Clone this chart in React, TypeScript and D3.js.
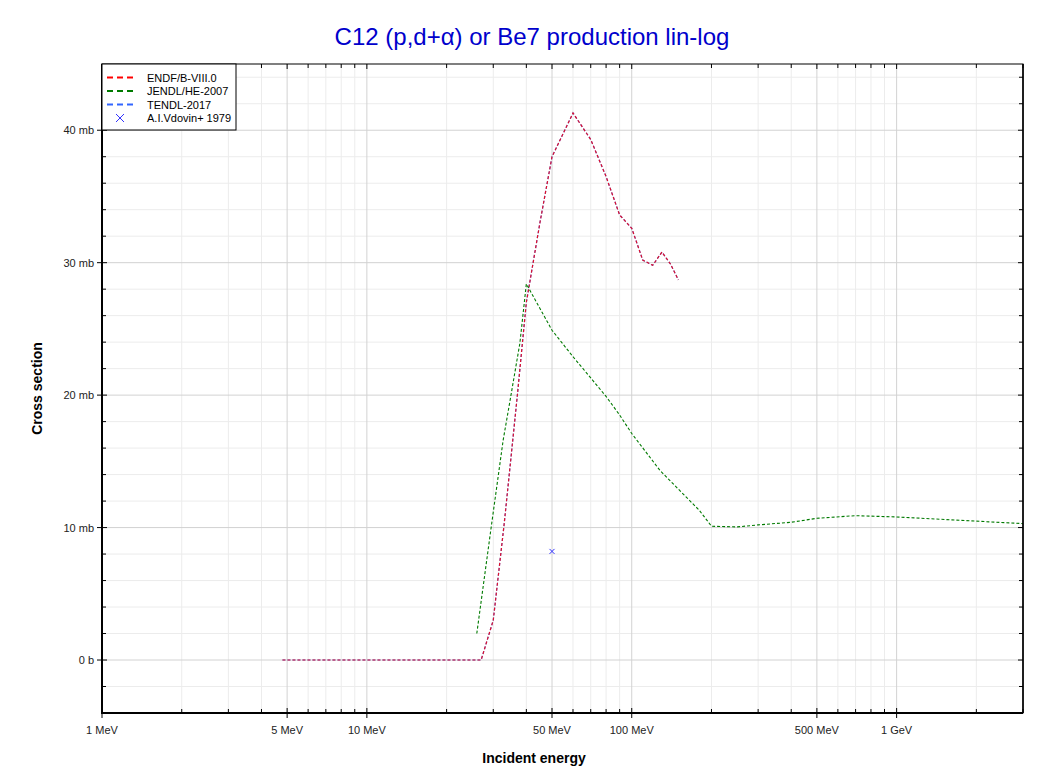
import React from "react";
import * as d3 from "d3";

// ---- data ----
const endfE = [4.8, 10, 20, 27, 30, 33, 37, 40, 45, 50, 60, 70, 80, 90, 100, 110, 120, 130, 140, 150];
const endfV = [0, 0, 0, 0, 3.0, 10.3, 20, 27, 33, 38, 41.3, 39.3, 36.5, 33.6, 32.6, 30.2, 29.8, 30.8, 29.9, 28.7];

const tendlE = [4.8, 10, 20, 27, 30, 33, 37, 40, 45, 50, 60, 70, 80, 90, 100, 110, 120, 130, 140, 150];
const tendlV = [0, 0, 0, 0, 3.0, 10.3, 20, 27, 33, 38, 41.3, 39.3, 36.5, 33.6, 32.6, 30.2, 29.8, 30.8, 29.9, 28.7];

const jendlE = [26, 29.5, 32.7, 35, 37.8, 40, 50, 60, 70, 80, 90, 100, 128, 150, 180, 200, 250, 300, 400, 500, 700, 1000, 3000];
const jendlV = [2.0, 10.1, 16.6, 20, 23.9, 28.4, 24.9, 22.9, 21.3, 19.9, 18.5, 17.1, 14.3, 12.9, 11.3, 10.1, 10.05, 10.2, 10.4, 10.7, 10.9, 10.8, 10.3];

const vdovinE = [50];
const vdovinV = [8.2];

const xMajorTicks = [1, 5, 10, 50, 100, 500, 1000];
const xMajorLabels = ["1 MeV", "5 MeV", "10 MeV", "50 MeV", "100 MeV", "500 MeV", "1 GeV"];
const xMinorTicks = [2, 3, 4, 6, 7, 8, 9, 20, 30, 40, 60, 70, 80, 90, 200, 300, 400, 600, 700, 800, 900, 2000, 3000];

const yMajorTicks = [0, 10, 20, 30, 40];
const yMajorLabels = ["0 b", "10 mb", "20 mb", "30 mb", "40 mb"];
const yMinorTicks = [-4, -2, 2, 4, 6, 8, 12, 14, 16, 18, 22, 24, 26, 28, 32, 34, 36, 38, 42, 44];

const legendNames = ["ENDF/B-VIII.0", "JENDL/HE-2007", "TENDL-2017", "A.I.Vdovin+ 1979"];
const legendColors = ["#ff0000", "#007a00", "#3366ff", "#3333ff"];

const W = 1049;
const H = 772;
const L = 102, R = 1023, T = 64, B = 713;
const FONT = "'Liberation Sans', Arial, Helvetica, sans-serif";

export default function App() {
  const x = d3.scaleLog().domain([1, 3000]).range([L, R]);
  const y = d3.scaleLinear().domain([-4, 45]).range([B, T]);

  const line = d3
    .line<[number, number]>()
    .x((d) => x(d[0]))
    .y((d) => y(d[1]));

  const zip = (a: number[], b: number[]) => a.map((v, i) => [v, b[i]] as [number, number]);

  const endf = line(zip(endfE, endfV)) || "";
  const tendl = line(zip(tendlE, tendlV)) || "";
  const jendl = line(zip(jendlE, jendlV)) || "";

  return (
    <svg
      width={W}
      height={H}
      style={{ position: "absolute", left: 0, top: 0, background: "#fff" }}
      fontFamily={FONT}
    >
      <rect x={0} y={0} width={W} height={H} fill="#fff" />
      {/* title */}
      <text x={532} y={45} textAnchor="middle" fontSize={24} fill="#0000cc">
        C12 (p,d+α) or Be7 production lin-log
      </text>

      {/* grid */}
      <g>
        {xMinorTicks.map((t) => (
          <line key={"gxm" + t} x1={x(t)} x2={x(t)} y1={T} y2={B} stroke="#ececec" strokeWidth={1} />
        ))}
        {yMinorTicks.map((t) => (
          <line key={"gym" + t} x1={L} x2={R} y1={y(t)} y2={y(t)} stroke="#ececec" strokeWidth={1} />
        ))}
        {xMajorTicks.map((t) => (
          <line key={"gx" + t} x1={x(t)} x2={x(t)} y1={T} y2={B} stroke="#d2d2d2" strokeWidth={1} />
        ))}
        {yMajorTicks.map((t) => (
          <line key={"gy" + t} x1={L} x2={R} y1={y(t)} y2={y(t)} stroke="#d2d2d2" strokeWidth={1} />
        ))}
      </g>

      {/* data */}
      <path d={tendl} fill="none" stroke={legendColors[2]} strokeWidth={1.2} strokeDasharray="3,2" />
      <path d={endf} fill="none" stroke={legendColors[0]} strokeWidth={1.2} strokeDasharray="3,2" strokeOpacity={0.85} />
      <path d={jendl} fill="none" stroke={legendColors[1]} strokeWidth={1.1} strokeDasharray="3,2" />
      {vdovinE.map((e, i) => {
        const cx = x(e), cy = y(vdovinV[i]);
        const s = 2.5;
        return (
          <g key={"v" + i} stroke={legendColors[3]} strokeWidth={1}>
            <line x1={cx - s} y1={cy - s} x2={cx + s} y2={cy + s} />
            <line x1={cx - s} y1={cy + s} x2={cx + s} y2={cy - s} />
          </g>
        );
      })}

      {/* frame */}
      <rect x={L} y={T} width={R - L} height={B - T} fill="none" stroke="#000" strokeWidth={1} />
      <line x1={L} x2={L} y1={T} y2={B + 1} stroke="#000" strokeWidth={2} />
      <line x1={L - 1} x2={R} y1={B} y2={B} stroke="#000" strokeWidth={2} />
      <line x1={R} x2={R} y1={T} y2={B} stroke="#000" strokeWidth={1.5} />

      {/* ticks */}
      <g stroke="#000" strokeWidth={1}>
        {xMajorTicks.map((t) => (
          <g key={"tx" + t}>
            <line x1={x(t)} x2={x(t)} y1={B - 5} y2={B + 5} />
            <line x1={x(t)} x2={x(t)} y1={T} y2={T + 5} />
          </g>
        ))}
        {xMinorTicks.map((t) => (
          <g key={"txm" + t}>
            <line x1={x(t)} x2={x(t)} y1={B - 4} y2={B} />
            <line x1={x(t)} x2={x(t)} y1={T} y2={T + 4} />
          </g>
        ))}
        {yMajorTicks.map((t) => (
          <g key={"ty" + t}>
            <line x1={L - 5} x2={L + 5} y1={y(t)} y2={y(t)} />
            <line x1={R - 5} x2={R} y1={y(t)} y2={y(t)} />
          </g>
        ))}
        {yMinorTicks.map((t) => (
          <g key={"tym" + t}>
            <line x1={L} x2={L + 4} y1={y(t)} y2={y(t)} />
            <line x1={R - 4} x2={R} y1={y(t)} y2={y(t)} />
          </g>
        ))}
      </g>

      {/* tick labels */}
      <g fontSize={11} fill="#222">
        {xMajorTicks.map((t, i) => (
          <text key={"lx" + t} x={x(t)} y={734} textAnchor="middle">
            {xMajorLabels[i]}
          </text>
        ))}
        {yMajorTicks.map((t, i) => (
          <text key={"ly" + t} x={94} y={y(t) + 4} textAnchor="end">
            {yMajorLabels[i]}
          </text>
        ))}
      </g>

      {/* axis titles */}
      <text x={534} y={763} textAnchor="middle" fontSize={14} fontWeight="bold" fill="#000">
        Incident energy
      </text>
      <text
        transform={`translate(42, ${(T + B) / 2}) rotate(-90)`}
        textAnchor="middle"
        fontSize={14}
        fontWeight="bold"
        fill="#000"
      >
        Cross section
      </text>

      {/* legend */}
      <g>
        <rect x={L} y={T} width={134} height={66} fill="#fff" stroke="#000" strokeWidth={1} />
        {legendNames.map((n, i) => {
          const ly = 77.5 + i * 13.5;
          return (
            <g key={"lg" + i}>
              {i < 3 ? (
                <line x1={107} x2={134} y1={ly} y2={ly} stroke={legendColors[i]} strokeWidth={2} strokeDasharray="6,4" />
              ) : (
                <g stroke={legendColors[i]} strokeWidth={1}>
                  <line x1={116} y1={ly - 4} x2={124} y2={ly + 4} />
                  <line x1={116} y1={ly + 4} x2={124} y2={ly - 4} />
                </g>
              )}
              <text x={147} y={ly + 4} fontSize={11} fill="#000">
                {n}
              </text>
            </g>
          );
        })}
      </g>
    </svg>
  );
}
